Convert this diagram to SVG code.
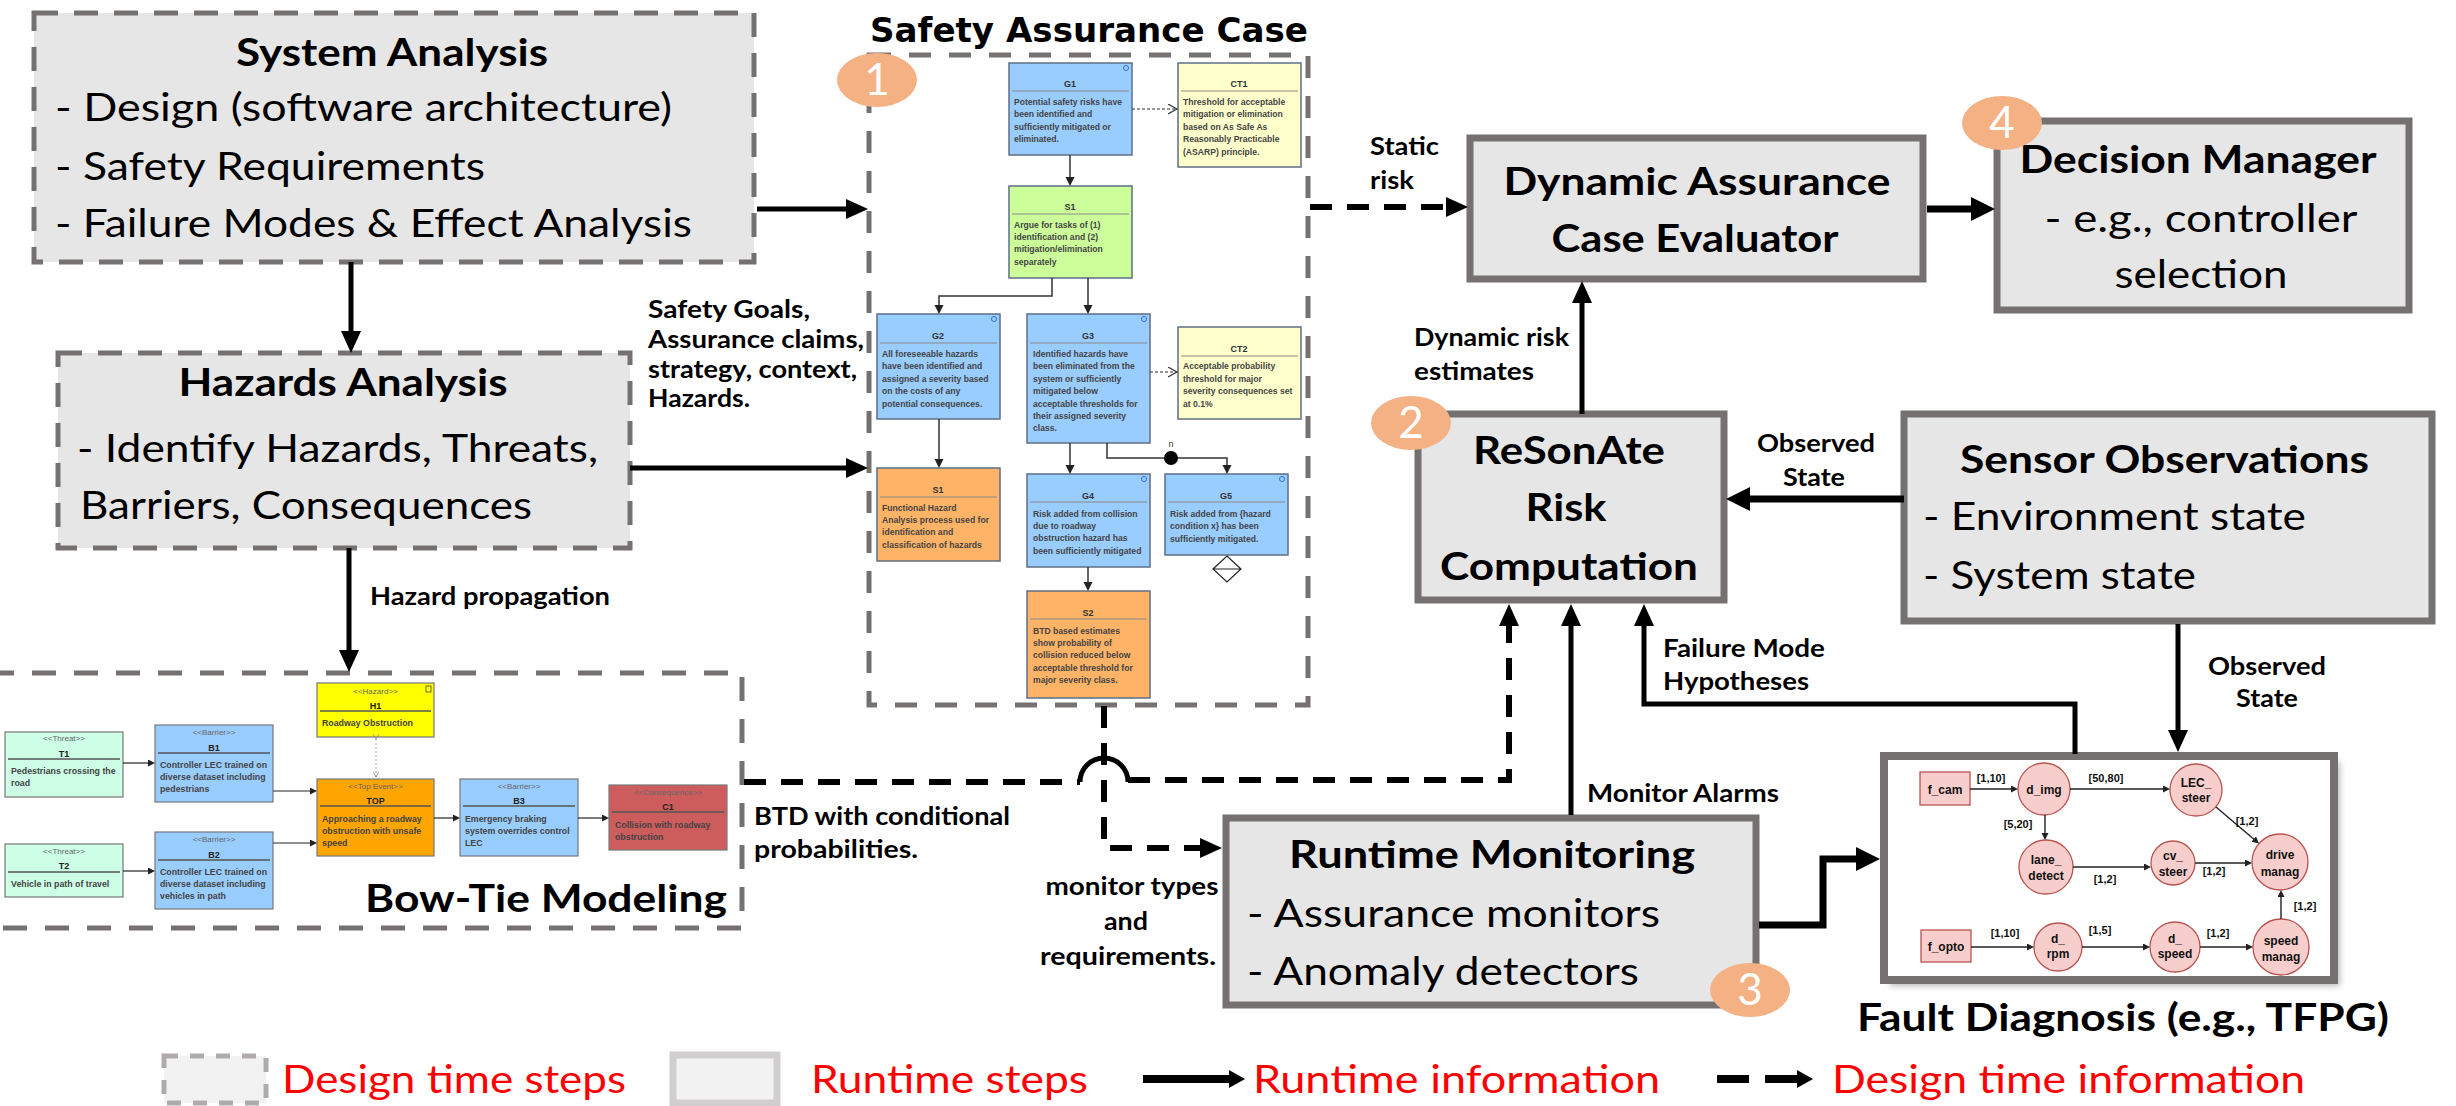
<svg xmlns="http://www.w3.org/2000/svg" width="2456" height="1106" viewBox="0 0 2456 1106">
<defs>
<style>
.dt{fill:#E7E6E6;stroke:#767171;stroke-width:5;stroke-dasharray:24 16}
.rt{fill:#E7E6E6;stroke:#767171;stroke-width:7}
.m{font-family:Lato,"Open Sans",sans-serif;font-size:38px;fill:#000}
.b{font-weight:bold}
.c{text-anchor:middle}
.lb{font-family:Lato,"Open Sans",sans-serif;font-size:24px;font-weight:bold;fill:#000}
.circ{fill:#F4B183}
.num{font-family:Lato,sans-serif;font-size:44px;fill:#fff;text-anchor:middle}
.ln{fill:none;stroke:#000;stroke-width:5}
.lnt{fill:none;stroke:#000;stroke-width:7}
.ds{fill:none;stroke:#000;stroke-width:6;stroke-dasharray:22 15}
.gb{fill:#99CCFF;stroke:#5f6f86;stroke-width:1.5}
.gg{fill:#CCFF99;stroke:#5f6f86;stroke-width:1.5}
.gy{fill:#FFFFCC;stroke:#5f6f86;stroke-width:1.5}
.go{fill:#FFB366;stroke:#5f6f86;stroke-width:1.5}
.gl{stroke:#8a8a8a;stroke-width:1}
.gh{font-family:"Liberation Sans",Arial,sans-serif;font-size:9px;font-weight:bold;fill:#333;text-anchor:middle}
.g{font-family:"Liberation Sans",Arial,sans-serif;font-size:8.6px;font-weight:bold;fill:#444}
.gi{fill:none;stroke:#3a6fd0;stroke-width:1}
.gc{fill:none;stroke:#333;stroke-width:1.5}
.gd{fill:none;stroke:#333;stroke-width:1.2;stroke-dasharray:3 2}
.bn{stroke:#777;stroke-width:1.2}
.bl{stroke:#555;stroke-width:1.5}
.bs{font-family:"Liberation Sans",Arial,sans-serif;font-size:8px;fill:#666;text-anchor:middle}
.bh{font-family:"Liberation Sans",Arial,sans-serif;font-size:9px;font-weight:bold;fill:#222;text-anchor:middle}
.bt{font-family:"Liberation Sans",Arial,sans-serif;font-size:8.8px;font-weight:bold;fill:#444}
.bc{fill:none;stroke:#222;stroke-width:1.2}
.tn{fill:#F8CECC;stroke:#B85450;stroke-width:1.3}
.tt{font-family:"Liberation Sans",Arial,sans-serif;font-size:12px;font-weight:bold;fill:#111;text-anchor:middle}
.tl{font-family:"Liberation Sans",Arial,sans-serif;font-size:11px;font-weight:bold;fill:#111;text-anchor:middle}
.tc{fill:none;stroke:#222;stroke-width:1.4}
.lg{font-family:Lato,"Open Sans",sans-serif;font-size:38px;fill:#FF0000}
</style>
<marker id="a" markerUnits="userSpaceOnUse" markerWidth="24" markerHeight="20" refX="10" refY="10" orient="auto"><path d="M0,0 L22,10 L0,20 z" fill="#000"/></marker>
<marker id="b" markerUnits="userSpaceOnUse" markerWidth="26" markerHeight="24" refX="10" refY="12" orient="auto"><path d="M0,0 L24,12 L0,24 z" fill="#000"/></marker>
<marker id="s" markerUnits="userSpaceOnUse" markerWidth="10" markerHeight="10" refX="4" refY="4.5" orient="auto"><path d="M0,0 L9,4.5 L0,9 z" fill="#222"/></marker>
<marker id="o" markerUnits="userSpaceOnUse" markerWidth="11" markerHeight="11" refX="9" refY="5" orient="auto"><path d="M0,0 L9,5 L0,10" fill="none" stroke="#333" stroke-width="1.2"/></marker>
<marker id="t" markerUnits="userSpaceOnUse" markerWidth="8" markerHeight="8" refX="3" refY="3.5" orient="auto"><path d="M0,0 L7,3.5 L0,7 z" fill="#222"/></marker>
<marker id="tg" markerUnits="userSpaceOnUse" markerWidth="6" markerHeight="6" refX="5" refY="3" orient="auto"><path d="M0,0 L5,3 L0,6" fill="none" stroke="#888" stroke-width="0.8"/></marker>
<marker id="l" markerUnits="userSpaceOnUse" markerWidth="18" markerHeight="20" refX="4" refY="9" orient="auto"><path d="M0,0 L16,9 L0,18 z" fill="#000"/></marker>
<filter id="sh" x="-5%" y="-5%" width="110%" height="110%"><feGaussianBlur stdDeviation="3"/></filter>
</defs>
<rect width="2456" height="1106" fill="#fff"/>

<!-- System Analysis -->
<g id="system-analysis">
<rect class="dt" x="34" y="13" width="720" height="249"/>
<text class="m b c" x="392" y="66" textLength="312" lengthAdjust="spacingAndGlyphs">System Analysis</text>
<text class="m" x="55" y="121" textLength="617" lengthAdjust="spacingAndGlyphs">- Design (software architecture)</text>
<text class="m" x="55" y="180" textLength="430" lengthAdjust="spacingAndGlyphs">- Safety Requirements</text>
<text class="m" x="55" y="237" textLength="637" lengthAdjust="spacingAndGlyphs">- Failure Modes &amp; Effect Analysis</text>
</g>

<!-- Hazards Analysis -->
<g id="hazards-analysis">
<rect class="dt" x="58" y="353" width="572" height="195"/>
<text class="m b c" x="343" y="396" textLength="329" lengthAdjust="spacingAndGlyphs">Hazards Analysis</text>
<text class="m" x="77" y="462" textLength="521" lengthAdjust="spacingAndGlyphs">- Identify Hazards, Threats,</text>
<text class="m" x="80" y="519" textLength="452" lengthAdjust="spacingAndGlyphs">Barriers, Consequences</text>
</g>

<!-- Safety Assurance Case -->
<g id="safety-assurance-case">
<rect x="869" y="55" width="439" height="650" fill="none" stroke="#767171" stroke-width="5" stroke-dasharray="22 18"/>
<text x="1089" y="42" text-anchor="middle" font-family="'DejaVu Sans',Verdana,sans-serif" font-weight="bold" font-size="33" textLength="438" lengthAdjust="spacingAndGlyphs">Safety Assurance Case</text>
</g>
<g id="badge-1"><ellipse class="circ" cx="877" cy="80" rx="40" ry="27"/><text class="num" x="877" y="95">1</text></g>

<g id="gsn-g1">
<rect class="gb" x="1009" y="63" width="123" height="92"/>
<circle class="gi" cx="1126" cy="68" r="2.5"/>
<text class="gh" x="1070" y="87">G1</text>
<line class="gl" x1="1012" y1="91" x2="1129" y2="91"/>
<text class="g" x="1014" y="105">Potential safety risks have</text>
<text class="g" x="1014" y="117">been identified and</text>
<text class="g" x="1014" y="130">sufficiently mitigated or</text>
<text class="g" x="1014" y="142">eliminated.</text>
</g>
<g id="gsn-ct1">
<rect class="gy" x="1178" y="63" width="123" height="104"/>
<text class="gh" x="1239" y="87">CT1</text>
<line class="gl" x1="1181" y1="91" x2="1298" y2="91"/>
<text class="g" x="1183" y="105">Threshold for acceptable</text>
<text class="g" x="1183" y="117">mitigation or elimination</text>
<text class="g" x="1183" y="130">based on As Safe As</text>
<text class="g" x="1183" y="142">Reasonably Practicable</text>
<text class="g" x="1183" y="155">(ASARP) principle.</text>
</g>
<g id="gsn-s1">
<rect class="gg" x="1009" y="186" width="123" height="92"/>
<text class="gh" x="1070" y="210">S1</text>
<line class="gl" x1="1012" y1="214" x2="1129" y2="214"/>
<text class="g" x="1014" y="228">Argue for tasks of (1)</text>
<text class="g" x="1014" y="240">identification and (2)</text>
<text class="g" x="1014" y="252">mitigation/elimination</text>
<text class="g" x="1014" y="265">separately</text>
</g>
<g id="gsn-g2">
<rect class="gb" x="877" y="314" width="123" height="105"/>
<circle class="gi" cx="994" cy="319" r="2.5"/>
<text class="gh" x="938" y="339">G2</text>
<line class="gl" x1="880" y1="343" x2="997" y2="343"/>
<text class="g" x="882" y="357">All foreseeable hazards</text>
<text class="g" x="882" y="369">have been identified and</text>
<text class="g" x="882" y="382">assigned a severity based</text>
<text class="g" x="882" y="394">on the costs of any</text>
<text class="g" x="882" y="407">potential consequences.</text>
</g>
<g id="gsn-g3">
<rect class="gb" x="1027" y="314" width="123" height="129"/>
<circle class="gi" cx="1144" cy="319" r="2.5"/>
<text class="gh" x="1088" y="339">G3</text>
<line class="gl" x1="1030" y1="343" x2="1147" y2="343"/>
<text class="g" x="1033" y="357">Identified hazards have</text>
<text class="g" x="1033" y="369">been eliminated from the</text>
<text class="g" x="1033" y="382">system or sufficiently</text>
<text class="g" x="1033" y="394">mitigated below</text>
<text class="g" x="1033" y="407">acceptable thresholds for</text>
<text class="g" x="1033" y="419">their assigned severity</text>
<text class="g" x="1033" y="431">class.</text>
</g>
<g id="gsn-ct2">
<rect class="gy" x="1178" y="327" width="123" height="92"/>
<text class="gh" x="1239" y="352">CT2</text>
<line class="gl" x1="1181" y1="356" x2="1298" y2="356"/>
<text class="g" x="1183" y="369">Acceptable probability</text>
<text class="g" x="1183" y="382">threshold for major</text>
<text class="g" x="1183" y="394">severity consequences set</text>
<text class="g" x="1183" y="407">at 0.1%</text>
</g>
<g id="gsn-s1b">
<rect class="go" x="877" y="468" width="123" height="93"/>
<text class="gh" x="938" y="493">S1</text>
<line class="gl" x1="880" y1="497" x2="997" y2="497"/>
<text class="g" x="882" y="511">Functional Hazard</text>
<text class="g" x="882" y="523">Analysis process used for</text>
<text class="g" x="882" y="535">identification and</text>
<text class="g" x="882" y="548">classification of hazards</text>
</g>
<g id="gsn-g4">
<rect class="gb" x="1027" y="474" width="123" height="93"/>
<circle class="gi" cx="1144" cy="479" r="2.5"/>
<text class="gh" x="1088" y="499">G4</text>
<line class="gl" x1="1030" y1="502" x2="1147" y2="502"/>
<text class="g" x="1033" y="517">Risk added from collision</text>
<text class="g" x="1033" y="529">due to roadway</text>
<text class="g" x="1033" y="541">obstruction hazard has</text>
<text class="g" x="1033" y="554">been sufficiently mitigated</text>
</g>
<g id="gsn-g5">
<rect class="gb" x="1165" y="474" width="123" height="81"/>
<circle class="gi" cx="1282" cy="479" r="2.5"/>
<text class="gh" x="1226" y="499">G5</text>
<line class="gl" x1="1168" y1="502" x2="1285" y2="502"/>
<text class="g" x="1170" y="517">Risk added from {hazard</text>
<text class="g" x="1170" y="529">condition x} has been</text>
<text class="g" x="1170" y="542">sufficiently mitigated.</text>
<path d="M1213,569 L1227,556 L1241,569 L1227,582 Z M1213,569 H1241" fill="#fff" stroke="#222" stroke-width="1.2"/>
</g>
<g id="gsn-s2">
<rect class="go" x="1027" y="591" width="123" height="107"/>
<text class="gh" x="1088" y="616">S2</text>
<line class="gl" x1="1030" y1="619" x2="1147" y2="619"/>
<text class="g" x="1033" y="634">BTD based estimates</text>
<text class="g" x="1033" y="646">show probability of</text>
<text class="g" x="1033" y="658">collision reduced below</text>
<text class="g" x="1033" y="671">acceptable threshold for</text>
<text class="g" x="1033" y="683">major severity class.</text>
</g>

<!-- Bow-Tie -->
<g id="bow-tie">
<rect x="-10" y="673" width="752" height="255" fill="none" stroke="#767171" stroke-width="5" stroke-dasharray="24 18"/>
<text class="m b" x="365" y="912" textLength="362" lengthAdjust="spacingAndGlyphs">Bow-Tie Modeling</text>
</g>
<g id="bt-t1">
<rect class="bn" x="5" y="732" width="118" height="65" fill="#CCFFE6"/>
<text class="bs" x="64" y="741">&lt;&lt;Threat&gt;&gt;</text>
<text class="bh" x="64" y="757">T1</text>
<line class="bl" x1="8" y1="759" x2="120" y2="759"/>
<text class="bt" x="11" y="774">Pedestrians crossing the</text>
<text class="bt" x="11" y="786">road</text>
</g>
<g id="bt-t2">
<rect class="bn" x="5" y="844" width="118" height="53" fill="#CCFFE6"/>
<text class="bs" x="64" y="854">&lt;&lt;Threat&gt;&gt;</text>
<text class="bh" x="64" y="869">T2</text>
<line class="bl" x1="8" y1="872" x2="120" y2="872"/>
<text class="bt" x="11" y="887">Vehicle in path of travel</text>
</g>
<g id="bt-b1">
<rect class="bn" x="155" y="725" width="118" height="77" fill="#99CCFF"/>
<text class="bs" x="214" y="735">&lt;&lt;Barrier&gt;&gt;</text>
<text class="bh" x="214" y="751">B1</text>
<line class="bl" x1="158" y1="753" x2="270" y2="753"/>
<text class="bt" x="160" y="768">Controller LEC trained on</text>
<text class="bt" x="160" y="780">diverse dataset including</text>
<text class="bt" x="160" y="792">pedestrians</text>
</g>
<g id="bt-b2">
<rect class="bn" x="155" y="832" width="118" height="77" fill="#99CCFF"/>
<text class="bs" x="214" y="842">&lt;&lt;Barrier&gt;&gt;</text>
<text class="bh" x="214" y="858">B2</text>
<line class="bl" x1="158" y1="860" x2="270" y2="860"/>
<text class="bt" x="160" y="875">Controller LEC trained on</text>
<text class="bt" x="160" y="887">diverse dataset including</text>
<text class="bt" x="160" y="899">vehicles in path</text>
</g>
<g id="bt-h1">
<rect class="bn" x="317" y="683" width="117" height="54" fill="#FFFF00"/>
<rect x="426" y="686" width="5" height="6" fill="none" stroke="#444" stroke-width="0.8"/>
<text class="bs" x="375.5" y="694">&lt;&lt;Hazard&gt;&gt;</text>
<text class="bh" x="375.5" y="709">H1</text>
<line class="bl" x1="320" y1="711" x2="431" y2="711" stroke="#b5a800"/>
<text class="bt" x="322" y="726">Roadway Obstruction</text>
</g>
<g id="bt-top">
<rect class="bn" x="317" y="779" width="117" height="77" fill="#FFA500"/>
<text class="bs" x="375.5" y="789">&lt;&lt;Top Event&gt;&gt;</text>
<text class="bh" x="375.5" y="804">TOP</text>
<line class="bl" x1="320" y1="806" x2="431" y2="806"/>
<text class="bt" x="322" y="822">Approaching a roadway</text>
<text class="bt" x="322" y="834">obstruction with unsafe</text>
<text class="bt" x="322" y="846">speed</text>
</g>
<g id="bt-b3">
<rect class="bn" x="460" y="779" width="118" height="77" fill="#99CCFF"/>
<text class="bs" x="519" y="789">&lt;&lt;Barrier&gt;&gt;</text>
<text class="bh" x="519" y="804">B3</text>
<line class="bl" x1="463" y1="806" x2="575" y2="806"/>
<text class="bt" x="465" y="822">Emergency braking</text>
<text class="bt" x="465" y="834">system overrides control</text>
<text class="bt" x="465" y="846">LEC</text>
</g>
<g id="bt-c1">
<rect class="bn" x="609" y="785" width="118" height="65" fill="#CD5C5C"/>
<text class="bs" x="668" y="795">&lt;&lt;Consequence&gt;&gt;</text>
<text class="bh" x="668" y="810">C1</text>
<line class="bl" x1="612" y1="812" x2="724" y2="812"/>
<text class="bt" x="615" y="828">Collision with roadway</text>
<text class="bt" x="615" y="840">obstruction</text>
</g>

<!-- Runtime boxes -->
<g id="dynamic-assurance-case-evaluator">
<rect class="rt" x="1470" y="138" width="453" height="141"/>
<text class="m b c" x="1697" y="195" textLength="387" lengthAdjust="spacingAndGlyphs">Dynamic Assurance</text>
<text class="m b c" x="1695" y="252" textLength="287" lengthAdjust="spacingAndGlyphs">Case Evaluator</text>
</g>
<g id="decision-manager">
<rect class="rt" x="1997" y="121" width="412" height="189"/>
<text class="m b c" x="2198" y="173" textLength="357" lengthAdjust="spacingAndGlyphs">Decision Manager</text>
<text class="m c" x="2201" y="232" textLength="313" lengthAdjust="spacingAndGlyphs">- e.g., controller</text>
<text class="m c" x="2201" y="288" textLength="173" lengthAdjust="spacingAndGlyphs">selection</text>
</g>
<g id="badge-4"><ellipse class="circ" cx="2002" cy="123" rx="40" ry="27"/><text class="num" x="2002" y="138">4</text></g>
<g id="resonate">
<rect class="rt" x="1418" y="414" width="306" height="186"/>
<text class="m b c" x="1569" y="464" textLength="192" lengthAdjust="spacingAndGlyphs">ReSonAte</text>
<text class="m b c" x="1566" y="521" textLength="81" lengthAdjust="spacingAndGlyphs">Risk</text>
<text class="m b c" x="1569" y="580" textLength="258" lengthAdjust="spacingAndGlyphs">Computation</text>
</g>
<g id="badge-2"><ellipse class="circ" cx="1411" cy="423" rx="40" ry="27"/><text class="num" x="1411" y="438">2</text></g>
<g id="sensor-observations">
<rect class="rt" x="1904" y="414" width="528" height="207"/>
<text class="m b" x="1960" y="473" textLength="409" lengthAdjust="spacingAndGlyphs">Sensor Observations</text>
<text class="m" x="1923" y="530" textLength="383" lengthAdjust="spacingAndGlyphs">- Environment state</text>
<text class="m" x="1923" y="589" textLength="273" lengthAdjust="spacingAndGlyphs">- System state</text>
</g>
<g id="runtime-monitoring">
<rect class="rt" x="1226" y="818" width="530" height="187"/>
<text class="m b" x="1289" y="868" textLength="406" lengthAdjust="spacingAndGlyphs">Runtime Monitoring</text>
<text class="m" x="1247" y="927" textLength="413" lengthAdjust="spacingAndGlyphs">- Assurance monitors</text>
<text class="m" x="1247" y="985" textLength="392" lengthAdjust="spacingAndGlyphs">- Anomaly detectors</text>
</g>
<g id="badge-3"><ellipse class="circ" cx="1750" cy="990" rx="40" ry="27"/><text class="num" x="1750" y="1005">3</text></g>

<!-- Fault Diagnosis -->
<g id="fault-diagnosis">
<rect x="1890" y="762" width="450" height="224" fill="#777" opacity="0.5" filter="url(#sh)"/>
<rect x="1884" y="756" width="450" height="224" fill="#fff" stroke="#767171" stroke-width="8"/>
<text class="m b" x="1857" y="1031" textLength="532" lengthAdjust="spacingAndGlyphs">Fault Diagnosis (e.g., TFPG)</text>
</g>
<g id="tf-fcam"><rect class="tn" x="1920" y="772" width="50" height="33"/><text class="tt" x="1945" y="794">f_cam</text></g>
<g id="tf-dimg"><circle class="tn" cx="2044" cy="789" r="26"/><text class="tt" x="2044" y="794">d_img</text></g>
<g id="tf-lecsteer"><circle class="tn" cx="2196" cy="790" r="26"/><text class="tt" x="2196" y="787">LEC_</text><text class="tt" x="2196" y="802">steer</text></g>
<g id="tf-lanedetect"><circle class="tn" cx="2046" cy="867" r="27"/><text class="tt" x="2046" y="864">lane_</text><text class="tt" x="2046" y="880">detect</text></g>
<g id="tf-cvsteer"><circle class="tn" cx="2173" cy="863" r="22"/><text class="tt" x="2173" y="860">cv_</text><text class="tt" x="2173" y="876">steer</text></g>
<g id="tf-drivemanag"><circle class="tn" cx="2280" cy="862" r="28"/><text class="tt" x="2280" y="859">drive</text><text class="tt" x="2280" y="876">manag</text></g>
<g id="tf-fopto"><rect class="tn" x="1921" y="930" width="50" height="32"/><text class="tt" x="1946" y="951">f_opto</text></g>
<g id="tf-drpm"><circle class="tn" cx="2058" cy="947" r="24"/><text class="tt" x="2058" y="943">d_</text><text class="tt" x="2058" y="958">rpm</text></g>
<g id="tf-dspeed"><circle class="tn" cx="2175" cy="947" r="25"/><text class="tt" x="2175" y="943">d_</text><text class="tt" x="2175" y="958">speed</text></g>
<g id="tf-speedmanag"><circle class="tn" cx="2281" cy="947" r="28"/><text class="tt" x="2281" y="945">speed</text><text class="tt" x="2281" y="961">manag</text></g>

<!-- Connectors -->
<g id="connectors">
<line class="ln" x1="351" y1="262" x2="351" y2="341" marker-end="url(#a)"/>
<line class="ln" x1="757" y1="209" x2="856" y2="209" marker-end="url(#a)"/>
<line class="ln" x1="630" y1="468" x2="856" y2="468" marker-end="url(#a)"/>
<line class="ln" x1="349" y1="548" x2="349" y2="660" marker-end="url(#a)"/>
<line class="ds" x1="1310" y1="207" x2="1456" y2="207" marker-end="url(#a)"/>
<line class="lnt" x1="1927" y1="209" x2="1981" y2="209" marker-end="url(#b)"/>
<line class="ln" x1="1582" y1="414" x2="1582" y2="293" marker-end="url(#a)"/>
<line class="lnt" x1="1904" y1="499" x2="1740" y2="499" marker-end="url(#b)"/>
<line class="ln" x1="2178" y1="624" x2="2178" y2="740" marker-end="url(#a)"/>
<path class="ln" d="M2075,754 V704 H1644 V616" marker-end="url(#a)"/>
<line class="ln" x1="1571" y1="815" x2="1571" y2="616" marker-end="url(#a)"/>
<path class="ds" d="M744,782 H1080"/>
<path d="M1080,782 A24,24 0 0 1 1128,782" fill="none" stroke="#000" stroke-width="5"/>
<path class="ds" d="M1128,780 H1509 V616" marker-end="url(#a)"/>
<path class="ds" d="M1104,706 V848 H1210" marker-end="url(#a)"/>
<path class="lnt" d="M1759,925 H1823 V859 H1866" marker-end="url(#b)"/>
<!-- GSN edges -->
<line class="gc" x1="1070" y1="155" x2="1070" y2="181" marker-end="url(#s)"/>
<line class="gd" x1="1132" y1="109" x2="1177" y2="109" marker-end="url(#o)"/>
<path class="gc" d="M1052,278 V296 H939 V309" marker-end="url(#s)"/>
<line class="gc" x1="1088" y1="278" x2="1088" y2="309" marker-end="url(#s)"/>
<line class="gd" x1="1150" y1="372" x2="1177" y2="372" marker-end="url(#o)"/>
<line class="gc" x1="939" y1="419" x2="939" y2="463" marker-end="url(#s)"/>
<line class="gc" x1="1070" y1="443" x2="1070" y2="469" marker-end="url(#s)"/>
<path class="gc" d="M1107,443 V458 H1227 V469" marker-end="url(#s)"/>
<circle cx="1171" cy="458" r="7" fill="#000"/>
<text x="1171" y="447" font-family="Liberation Sans,Arial,sans-serif" font-size="9" fill="#333" text-anchor="middle">n</text>
<line class="gc" x1="1088" y1="567" x2="1088" y2="586" marker-end="url(#s)"/>
<!-- Bow-tie edges -->
<line class="bc" x1="123" y1="763" x2="151" y2="763" marker-end="url(#t)"/>
<line class="bc" x1="273" y1="791" x2="313" y2="791" stroke="#888" marker-end="url(#t)"/>
<line class="bc" x1="123" y1="871" x2="151" y2="871" marker-end="url(#t)"/>
<line class="bc" x1="273" y1="843" x2="313" y2="843" stroke="#888" marker-end="url(#t)"/>
<line class="bc" x1="434" y1="818" x2="456" y2="818" marker-end="url(#t)"/>
<line class="bc" x1="578" y1="818" x2="605" y2="818" marker-end="url(#t)"/>
<line x1="376" y1="739" x2="376" y2="777" stroke="#999" stroke-width="0.9" stroke-dasharray="2 2" marker-start="url(#tg)" marker-end="url(#tg)"/>
<!-- TFPG edges -->
<line class="tc" x1="1970" y1="789" x2="2014" y2="789" marker-end="url(#t)"/>
<line class="tc" x1="2070" y1="789" x2="2166" y2="789" marker-end="url(#t)"/>
<line class="tc" x1="2045" y1="815" x2="2045" y2="836" marker-end="url(#t)"/>
<line class="tc" x1="2073" y1="867" x2="2147" y2="867" marker-end="url(#t)"/>
<line class="tc" x1="2195" y1="863" x2="2248" y2="863" marker-end="url(#t)"/>
<line class="tc" x1="2216" y1="807" x2="2256" y2="841" marker-end="url(#t)"/>
<line class="tc" x1="2281" y1="919" x2="2281" y2="894" marker-end="url(#t)"/>
<line class="tc" x1="1971" y1="947" x2="2030" y2="947" marker-end="url(#t)"/>
<line class="tc" x1="2082" y1="947" x2="2146" y2="947" marker-end="url(#t)"/>
<line class="tc" x1="2200" y1="947" x2="2249" y2="947" marker-end="url(#t)"/>
<text class="tl" x="1991" y="782">[1,10]</text>
<text class="tl" x="2106" y="782">[50,80]</text>
<text class="tl" x="2018" y="828">[5,20]</text>
<text class="tl" x="2105" y="883">[1,2]</text>
<text class="tl" x="2214" y="875">[1,2]</text>
<text class="tl" x="2247" y="825">[1,2]</text>
<text class="tl" x="2005" y="937">[1,10]</text>
<text class="tl" x="2100" y="934">[1,5]</text>
<text class="tl" x="2218" y="937">[1,2]</text>
<text class="tl" x="2305" y="910">[1,2]</text>
</g>

<!-- Connector labels -->
<g id="connector-labels">
<text class="lb" x="648" y="318" textLength="162" lengthAdjust="spacingAndGlyphs">Safety Goals,</text>
<text class="lb" x="648" y="348" textLength="216" lengthAdjust="spacingAndGlyphs">Assurance claims,</text>
<text class="lb" x="648" y="378" textLength="209" lengthAdjust="spacingAndGlyphs">strategy, context,</text>
<text class="lb" x="648" y="407" textLength="102" lengthAdjust="spacingAndGlyphs">Hazards.</text>
<text class="lb" x="370" y="605" textLength="240" lengthAdjust="spacingAndGlyphs">Hazard propagation</text>
<text class="lb" x="1370" y="155" textLength="69" lengthAdjust="spacingAndGlyphs">Static</text>
<text class="lb" x="1370" y="189" textLength="44" lengthAdjust="spacingAndGlyphs">risk</text>
<text class="lb" x="1414" y="346" textLength="155" lengthAdjust="spacingAndGlyphs">Dynamic risk</text>
<text class="lb" x="1414" y="380" textLength="120" lengthAdjust="spacingAndGlyphs">estimates</text>
<text class="lb c" x="1816" y="452" textLength="118" lengthAdjust="spacingAndGlyphs">Observed</text>
<text class="lb c" x="1814" y="486" textLength="62" lengthAdjust="spacingAndGlyphs">State</text>
<text class="lb" x="1663" y="657" textLength="162" lengthAdjust="spacingAndGlyphs">Failure Mode</text>
<text class="lb" x="1663" y="690" textLength="146" lengthAdjust="spacingAndGlyphs">Hypotheses</text>
<text class="lb c" x="2267" y="675" textLength="118" lengthAdjust="spacingAndGlyphs">Observed</text>
<text class="lb c" x="2267" y="707" textLength="62" lengthAdjust="spacingAndGlyphs">State</text>
<text class="lb" x="1587" y="802" textLength="192" lengthAdjust="spacingAndGlyphs">Monitor Alarms</text>
<text class="lb" x="754" y="825" textLength="256" lengthAdjust="spacingAndGlyphs">BTD with conditional</text>
<text class="lb" x="754" y="858" textLength="164" lengthAdjust="spacingAndGlyphs">probabilities.</text>
<text class="lb c" x="1132" y="895" textLength="173" lengthAdjust="spacingAndGlyphs">monitor types</text>
<text class="lb c" x="1126" y="930" textLength="44" lengthAdjust="spacingAndGlyphs">and</text>
<text class="lb c" x="1128" y="965" textLength="176" lengthAdjust="spacingAndGlyphs">requirements.</text>
</g>

<!-- Legend -->
<g id="legend">
<rect x="164" y="1056" width="102" height="47" fill="#F2F2F2" stroke="#AFABAB" stroke-width="5" stroke-dasharray="14 12"/>
<text class="lg" x="282" y="1093" textLength="344" lengthAdjust="spacingAndGlyphs">Design time steps</text>
<rect x="673" y="1055" width="104" height="48" fill="#F2F2F2" stroke="#D0CECE" stroke-width="7"/>
<text class="lg" x="811" y="1093" textLength="277" lengthAdjust="spacingAndGlyphs">Runtime steps</text>
<line x1="1143" y1="1079" x2="1233" y2="1079" stroke="#000" stroke-width="8" marker-end="url(#l)"/>
<text class="lg" x="1253" y="1093" textLength="407" lengthAdjust="spacingAndGlyphs">Runtime information</text>
<line x1="1717" y1="1079" x2="1801" y2="1079" stroke="#000" stroke-width="8" stroke-dasharray="32 16" marker-end="url(#l)"/>
<text class="lg" x="1832" y="1093" textLength="473" lengthAdjust="spacingAndGlyphs">Design time information</text>
</g>
</svg>
